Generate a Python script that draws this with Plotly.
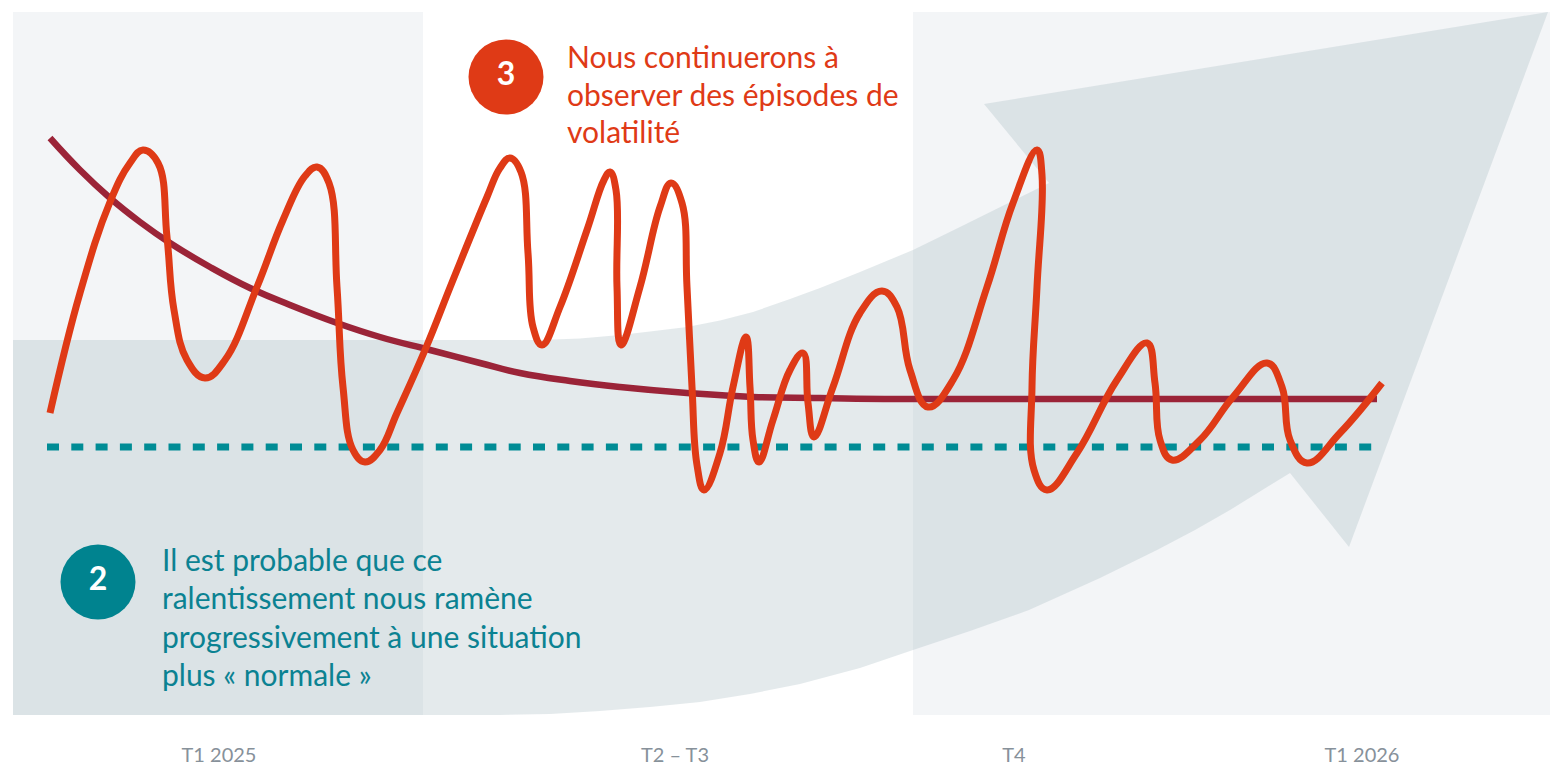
import plotly.graph_objects as go

# axes: x = time index (0 to 153.7), y = level (0 to 70.3)
tick_pos = [20.6, 66.2, 100.1, 134.9]
tick_text = ["T1 2025", "T2 – T3", "T4", "T1 2026"]

# volatile path (orange)
vol_x = [3.7, 6.7, 9.7, 11.7, 13.0, 14.5, 15.4, 16.1, 17.4, 19.2,
         21.2, 24.4, 27.0, 29.2, 30.4, 31.6, 32.4, 33.0, 34.0, 35.2,
         36.7, 38.4, 41.2, 44.0, 47.4, 48.7, 49.7, 50.8, 51.5, 52.0, 52.9,
         54.7, 57.4, 59.1, 59.7, 60.3, 60.4, 60.8,
         62.7, 64.7, 65.8, 66.9, 67.4, 67.9, 68.4, 69.1,
         70.7, 72.0, 73.3, 73.7, 74.0, 74.6,
         76.0, 77.7, 79.0, 79.5, 80.1,
         82.0, 84.7, 86.9, 88.4, 89.7, 91.5,
         94.0, 97.4, 100.0, 102.4, 102.9, 102.4, 101.9, 102.1, 103.4,
         106.4, 110.4, 113.4, 114.2, 114.7, 115.9,
         118.7, 122.0, 125.4, 126.9, 127.7, 129.4, 132.7, 136.9]
vol_y = [30.2, 42.2, 51.3, 55.2, 56.5, 55.2, 47.8, 40.5, 35.5, 33.7,
         35.5, 42.8, 49.5, 53.9, 54.8, 53.2, 42.8, 32.8, 26.5, 25.3,
         26.5, 30.2, 36.5, 43.5, 51.8, 54.7, 55.7, 54.3, 46.2, 38.8, 37.0,
         40.8, 48.5, 53.5, 54.3, 52.5, 42.8, 37.0,
         42.8, 50.8, 53.2, 51.2, 42.8, 32.8, 25.0, 22.5,
         26.2, 32.8, 37.8, 32.8, 27.5, 25.3,
         29.5, 34.5, 36.2, 31.2, 27.8,
         32.8, 40.2, 42.4, 40.8, 34.5, 30.8,
         33.5, 42.8, 51.2, 56.5, 54.0, 42.8, 32.8, 24.5, 22.5,
         26.2, 33.5, 37.2, 33.2, 27.5, 25.5,
         27.5, 31.8, 35.2, 32.8, 27.5, 25.2, 28.2, 33.2]

# slowing trend (maroon)
trend_x = [3.7, 6.7, 9.7, 12.7, 15.7, 19.7, 23.7, 27.7, 32.4, 36.7, 41.7, 46.7, 50.7, 55.7,
           60.7, 67.4, 74.0, 80.7, 88.7, 136.4]
trend_y = [57.7, 54.5, 51.7, 49.3, 47.2, 44.8, 42.7, 41.0, 39.2, 37.8, 36.5, 35.2, 34.2, 33.4,
           32.8, 32.2, 31.8, 31.7, 31.6, 31.6]

# "normal" level (teal dotted)
normal_x = [3.4, 137.0]
normal_y = [26.8, 26.8]

# big background arrow outline
arrow_x = [0, 52.7, 56.7, 60.7, 63.7, 67.4, 70.7, 74.0, 77.7, 80.7, 84.7, 90.0, 94.7, 98.7, 103.6,
           97.1, 153.5, 133.6, 127.7, 121.7, 118.2, 114.4, 108.7, 101.6, 95.7, 90.0, 84.7, 78.7,
           73.7, 68.7, 63.7, 58.7, 53.7, 48.7, 0, 0]
arrow_y = [37.5, 37.5, 37.65, 38.0, 38.35, 38.8, 39.45, 40.3, 41.6, 42.7, 44.3, 46.5, 48.8, 50.8,
           53.2, 61.1, 70.3, 16.8, 24.2, 20.5, 18.5, 16.5, 13.7, 10.5, 8.4, 6.5, 4.7, 3.1,
           2.1, 1.3, 0.8, 0.4, 0.1, 0, 0, 37.5]

# shaded period panels
panel_x0 = [0, 90.0]
panel_x1 = [41.0, 153.7]

X_MAX, Y_MAX = 153.7, 70.3
ORANGE = "#df3a16"
TEAL = "#00838f"
MAROON = "#9b2438"
FONT = "Lato"

fig = go.Figure()

fig.add_trace(go.Scatter(x=arrow_x, y=arrow_y, mode="lines", fill="toself",
                         fillcolor="rgba(165,185,192,0.3)", line=dict(width=0),
                         hoverinfo="skip", showlegend=False))
fig.add_trace(go.Scatter(x=normal_x, y=normal_y, mode="lines",
                         line=dict(color="#008c95", width=7, dash="12px,12.3px"),
                         showlegend=False))
fig.add_trace(go.Scatter(x=trend_x, y=trend_y, mode="lines", line_shape="spline",
                         line=dict(color=MAROON, width=6.5, smoothing=1.3), showlegend=False))
fig.add_trace(go.Scatter(x=vol_x, y=vol_y, mode="lines", line_shape="spline",
                         line=dict(color=ORANGE, width=7, smoothing=1.2), showlegend=False))

# numbered badges
fig.add_trace(go.Scatter(x=[49.3, 8.5], y=[63.8, 13.3], mode="markers+text",
                         marker=dict(size=75, color=[ORANGE, TEAL], line=dict(width=0)),
                         text=["<b>3</b>", "<b>2</b>"], textposition="middle center",
                         textfont=dict(family=FONT, size=32, color="white"),
                         showlegend=False, hoverinfo="skip"))

for x0, x1 in zip(panel_x0, panel_x1):
    fig.add_shape(type="rect", xref="x", yref="y", x0=x0, x1=x1, y0=0, y1=Y_MAX,
                  fillcolor="#f3f5f7", line=dict(width=0), layer="below")

lines3 = ["Nous continuerons à", "observer des épisodes de", "volatilité"]
for i, t in enumerate(lines3):
    fig.add_annotation(x=55.2, y=65.9 - i * 3.75, text=t, showarrow=False, xanchor="left",
                       yanchor="middle", font=dict(family=FONT, size=30, color=ORANGE))

lines2 = ["Il est probable que ce", "ralentissement nous ramène",
          "progressivement à une situation", "plus « normale »"]
for i, t in enumerate(lines2):
    fig.add_annotation(x=14.7, y=15.6 - i * 3.83, text=t, showarrow=False, xanchor="left",
                       yanchor="middle", font=dict(family=FONT, size=30, color="#0b8292"))

fig.update_layout(
    width=1562, height=771,
    margin=dict(l=13, r=12, t=12, b=56),
    paper_bgcolor="white", plot_bgcolor="white",
    xaxis=dict(range=[0, X_MAX], showgrid=False, zeroline=False, showline=False,
               tickvals=tick_pos, ticktext=tick_text, ticks="", ticklabelstandoff=26,
               automargin=False,
               tickfont=dict(family=FONT, size=20, color="#87919a"), fixedrange=True),
    yaxis=dict(range=[0, Y_MAX], showgrid=False, zeroline=False, showline=False,
               showticklabels=False, automargin=False, fixedrange=True),
    hovermode=False,
)

# drop the default 8px body margin so the figure sits flush in the window
fig.write_html("out.html", config={"displayModeBar": False},
               post_script="document.body.style.margin='0';")
